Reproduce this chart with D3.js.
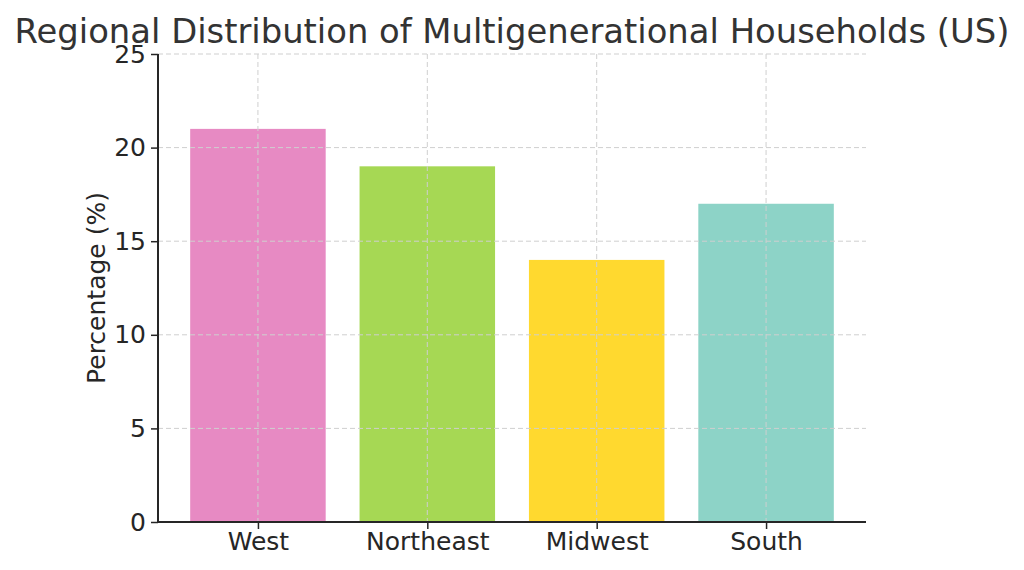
<!DOCTYPE html>
<html>
<head>
<meta charset="utf-8">
<script src="https://cdn.jsdelivr.net/npm/d3@7"></script>
<style>
  body { margin: 0; background: #fff; }
  text { font-family: "DejaVu Sans", sans-serif; fill: #262626; }
</style>
</head>
<body>
<div class="chart"></div>
<script>
const regions = ["West", "Northeast", "Midwest", "South"];
const percentages = [21, 19, 14, 17];
const barColors = ["#e78ac3", "#a6d854", "#ffd92f", "#8dd3c7"];
const yTicks = [0, 5, 10, 15, 20, 25];

const margin = {top: 54, right: 158, bottom: 48, left: 158};
const width = 1024 - margin.left - margin.right,
    height = 570 - margin.top - margin.bottom;

const svg = d3.select(".chart").append("svg")
  .attr("width", 1024)
  .attr("height", 570);

const g = svg.append("g")
  .attr("transform", "translate(" + margin.left + "," + margin.top + ")");

// matplotlib style: bars 0.8 wide, 5% margins
const xScale = d3.scaleLinear()
  .domain([-0.59, regions.length - 1 + 0.59])
  .range([0, width]);

const yScale = d3.scaleLinear()
  .domain([0, 25])
  .range([height, 0]);

const barW = xScale(0.4) - xScale(-0.4);

g.selectAll(".bar")
  .data(percentages)
  .enter()
  .append("rect")
  .attr("class", "bar")
  .attr("x", (d, i) => xScale(i) - barW / 2)
  .attr("y", d => yScale(d))
  .attr("width", barW)
  .attr("height", d => height - yScale(d))
  .attr("fill", (d, i) => barColors[i]);

// grid on top of bars
g.append("g")
  .selectAll("line")
  .data(yTicks.slice(1))
  .enter()
  .append("line")
  .attr("x1", 0)
  .attr("x2", width)
  .attr("y1", d => yScale(d))
  .attr("y2", d => yScale(d))
  .attr("stroke", "#cfcfcf")
  .attr("stroke-dasharray", "5,3");

g.append("g")
  .selectAll("line")
  .data(regions)
  .enter()
  .append("line")
  .attr("x1", (d, i) => xScale(i))
  .attr("x2", (d, i) => xScale(i))
  .attr("y1", 0)
  .attr("y2", height)
  .attr("stroke", "#cfcfcf")
  .attr("stroke-dasharray", "5,3");

const yAxis = d3.axisLeft(yScale)
  .tickValues(yTicks)
  .tickSize(7)
  .tickPadding(5);

const xAxis = d3.axisBottom(xScale)
  .tickValues(d3.range(regions.length))
  .tickFormat(i => regions[i])
  .tickSize(7)
  .tickPadding(3);

const yG = g.append("g").call(yAxis);
const xG = g.append("g")
  .attr("transform", "translate(0," + height + ")")
  .call(xAxis);

[yG, xG].forEach(ax => {
  ax.select(".domain").attr("stroke", "#262626").attr("stroke-width", 2).attr("d",
    ax === yG ? "M0," + height + "V0" : "M0,0H" + width);
  ax.selectAll(".tick line").attr("stroke", "#262626").attr("stroke-width", 1.5);
  ax.selectAll(".tick text")
    .style("font-family", "DejaVu Sans, sans-serif")
    .style("font-size", "25px")
    .attr("fill", "#262626");
});

g.append("text")
  .attr("transform", "rotate(-90)")
  .attr("x", -height / 2)
  .attr("y", -53)
  .attr("text-anchor", "middle")
  .style("font-size", "25px")
  .text("Percentage (%)");

svg.append("text")
  .attr("x", 512)
  .attr("y", 43)
  .attr("text-anchor", "middle")
  .style("font-size", "33.8px")
  .style("fill", "#333")
  .text("Regional Distribution of Multigenerational Households (US)");
</script>
</body>
</html>
